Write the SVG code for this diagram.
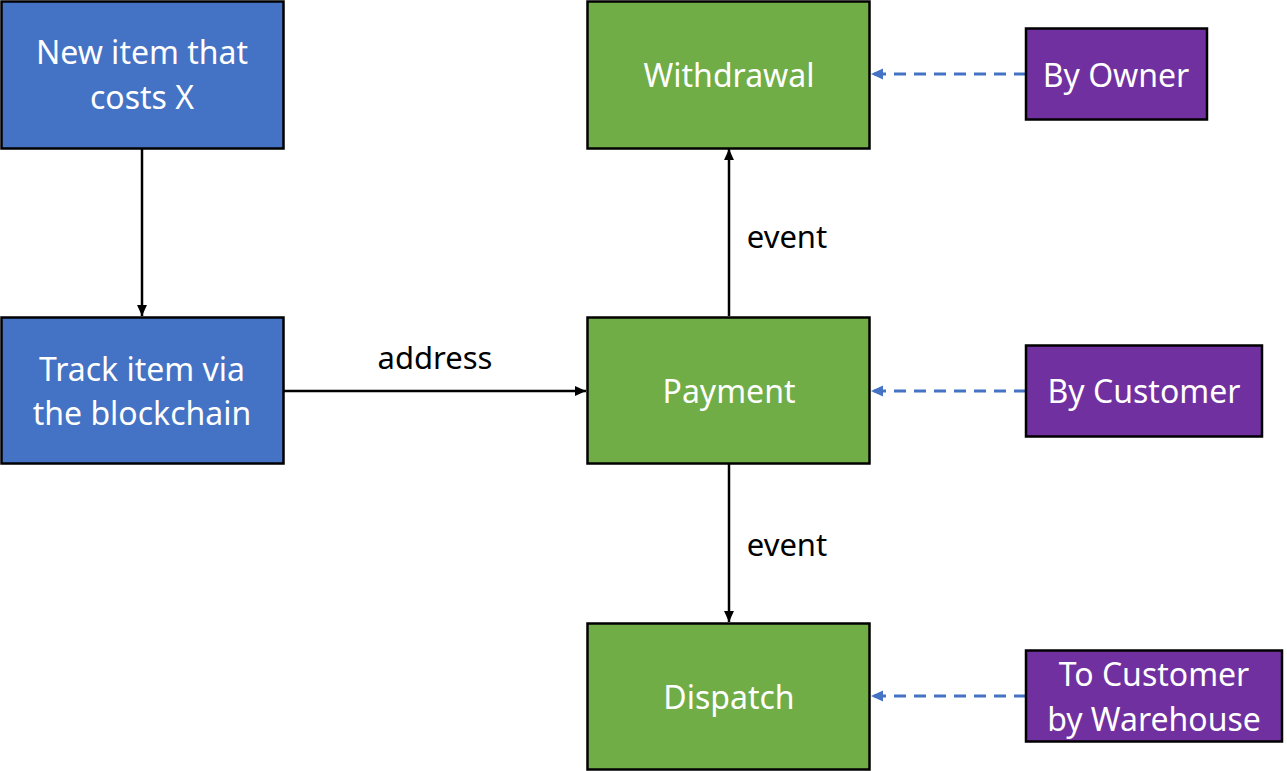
<svg xmlns="http://www.w3.org/2000/svg" width="1287" height="771" viewBox="0 0 1287 771">
<defs>
<style>
text{font-family:"Noto Sans","Open Sans","Liberation Sans",sans-serif;font-size:32px;text-anchor:middle;dominant-baseline:central}
.box{stroke:#000;stroke-width:2.5}
.blue{fill:#4472C4}.green{fill:#70AD47}.purple{fill:#7030A0}
.w{fill:#fff}
.lbl{fill:#000;font-size:31px}
.solid{stroke:#000;stroke-width:2.5;fill:none;marker-end:url(#ab)}
.dash{stroke:#4472C4;stroke-width:3;fill:none;stroke-dasharray:12 8;marker-end:url(#au)}
</style>
<marker id="ab" viewBox="0 0 10 10" refX="10" refY="5" markerWidth="4.4" markerHeight="4.4" orient="auto" markerUnits="strokeWidth"><path d="M0,0.5 L10,5 L0,9.5z" fill="#000"/></marker>
<marker id="au" viewBox="0 0 10 10" refX="10" refY="5" markerWidth="4" markerHeight="4" orient="auto" markerUnits="strokeWidth"><path d="M0,0.5 L10,5 L0,9.5z" fill="#4472C4"/></marker>
</defs>
<rect width="1287" height="771" fill="#fff"/>
<g id="connectors">
<line class="solid" x1="142" y1="149" x2="142" y2="316"/>
<line class="solid" x1="284" y1="391" x2="586" y2="391"/>
<line class="solid" x1="729" y1="316" x2="729" y2="149"/>
<line class="solid" x1="729" y1="464" x2="729" y2="622"/>
<line class="dash" x1="1026" y1="74" x2="871" y2="74"/>
<line class="dash" x1="1026" y1="391" x2="871" y2="391"/>
<line class="dash" x1="1026" y1="696" x2="871" y2="696"/>
<text class="lbl" x="435" y="357">address</text>
<text class="lbl" x="787" y="236">event</text>
<text class="lbl" x="787" y="544">event</text>
</g>
<g id="new-item"><rect class="box blue" x="1.5" y="1.5" width="282" height="147"/><text class="w" x="142" y="51">New item that</text><text class="w" x="142" y="96">costs X</text></g>
<g id="track-item"><rect class="box blue" x="1.5" y="317.5" width="282" height="146"/><text class="w" x="142" y="368">Track item via</text><text class="w" x="142" y="412">the blockchain</text></g>
<g id="withdrawal"><rect class="box green" x="587.5" y="1.5" width="282" height="147"/><text class="w" x="729" y="74">Withdrawal</text></g>
<g id="payment"><rect class="box green" x="587.5" y="317.5" width="282" height="146"/><text class="w" x="729" y="390">Payment</text></g>
<g id="dispatch"><rect class="box green" x="587.5" y="623.5" width="282" height="146"/><text class="w" x="729" y="696">Dispatch</text></g>
<g id="by-owner"><rect class="box purple" x="1026" y="28.5" width="181" height="91"/><text class="w" x="1116" y="74">By Owner</text></g>
<g id="by-customer"><rect class="box purple" x="1026" y="345.5" width="236" height="91"/><text class="w" x="1144" y="390">By Customer</text></g>
<g id="to-customer"><rect class="box purple" x="1026" y="650.5" width="256" height="91"/><text class="w" x="1154" y="673">To Customer</text><text class="w" x="1154" y="718">by Warehouse</text></g>
</svg>
